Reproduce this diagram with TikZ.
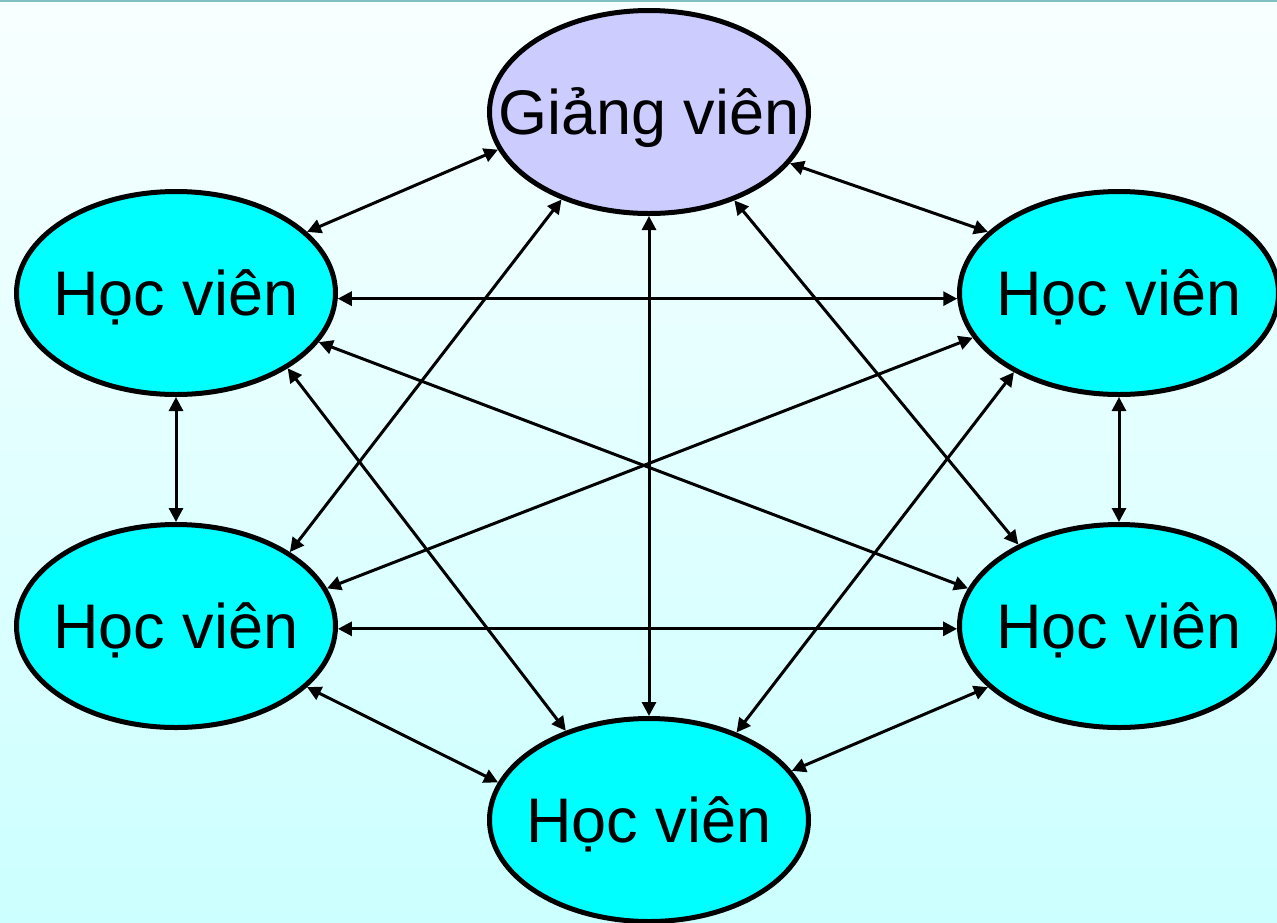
\documentclass[tikz,border=0pt]{standalone}
\usepackage{fontspec}
\setmainfont{Liberation Sans}
\usetikzlibrary{shapes.geometric,arrows.meta}
\definecolor{bgtop}{RGB}{248,255,255}
\definecolor{bgbot}{RGB}{204,255,255}
\definecolor{topline}{RGB}{128,192,192}
\definecolor{lav}{RGB}{204,204,255}
\definecolor{cy}{RGB}{0,255,255}
\tikzset{
  person/.style={ellipse, draw=black, line width=5pt, fill=cy, minimum width=319pt, minimum height=203pt, inner sep=0pt, font=\fontsize{63}{63}\selectfont, text height=45pt, text depth=0pt},
  teacher/.style={person, fill=lav},
  link/.style={line width=3pt, {Triangle[length=14pt,width=14pt]}-{Triangle[length=14pt,width=14pt]}}
}
\newcommand{\lbl}[1]{\makebox[0pt]{#1}}
\begin{document}
\begin{tikzpicture}[x=1pt,y=-1pt]
\useasboundingbox (0,0) rectangle (1277,922);
\shade[top color=bgtop, bottom color=bgbot] (0,0) rectangle (1277,922);
\fill[topline] (0,0) rectangle (1277,2);
\node[teacher] (g) at (649,112) {\lbl{Giảng viên}};
\node[person] (tl) at (176,293) {\lbl{Học viên}};
\node[person] (tr) at (1119,293) {\lbl{Học viên}};
\node[person] (bl) at (176,626) {\lbl{Học viên}};
\node[person] (br) at (1119,626) {\lbl{Học viên}};
\node[person] (b) at (649,820) {\lbl{Học viên}};
\draw[link] (g.194.7) -- (tl.25);
\draw[link] (g.340.4) -- (tr.155.4);
\draw[link] (g.270) -- (b.90);
\draw[link] (g.225.3) -- (bl.33.1);
\draw[link] (g.314.7) -- (br.141.1);
\draw[link] (tl.-2.4) -- (tr.182.4);
\draw[link] (tl.270) -- (bl.90);
\draw[link] (tl.341.3) -- (br.166.6);
\draw[link] (tl.326.8) -- (b.133.5);
\draw[link] (tr.270) -- (br.90);
\draw[link] (tr.197.5) -- (bl.14.1);
\draw[link] (tr.217.5) -- (b.45.6);
\draw[link] (bl.-1.7) -- (br.181.7);
\draw[link] (bl.335.1) -- (b.166.1);
\draw[link] (br.205.2) -- (b.19.2);
\end{tikzpicture}
\end{document}
